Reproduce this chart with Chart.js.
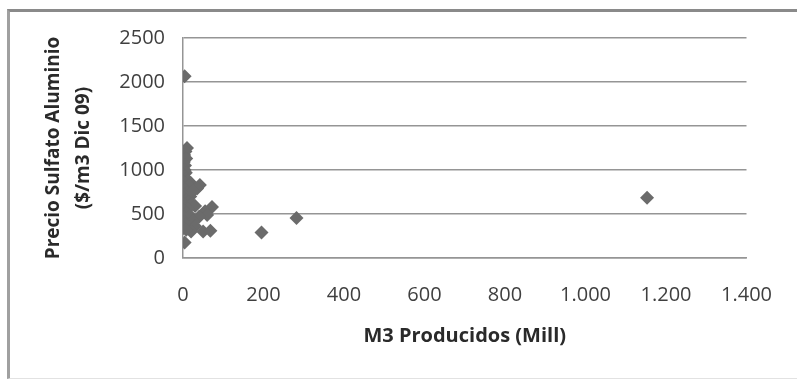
<!DOCTYPE html>
<html>
<head>
<meta charset="utf-8">
<script src="https://cdn.jsdelivr.net/npm/chart.js@4"></script>
<style>
  html, body { margin: 0; padding: 0; background: #fff; overflow: hidden; }
  #wrap { position: relative; width: 797px; height: 379px; }
  #frame {
    position: absolute; left: 7px; top: 9px; width: 820px; height: 366px;
    border-top: 3px solid #8a8a8a; border-left: 3px solid #a0a0a0; border-bottom: 1px solid #e2e2e2;
  }
  canvas { position: absolute; left: 0; top: 0; }
</style>
</head>
<body>
<div id="wrap">
  <div id="frame"></div>
  <canvas id="chart" width="797" height="379"></canvas>
</div>
<script>
// M3 producidos (millones) vs precio sulfato de aluminio
const produccion = [
  4,
  10, 6, 3, 8, 2, 5, 4, 7,
  1, 3, 8, 12, 2, 20, 15, 42, 35, 1, 6, 10, 25, 3, 18, 2, 8, 14, 1, 5, 22, 30,
  72, 12, 3, 55, 60, 8, 18, 2, 40, 10, 4, 25, 6, 15, 1, 30, 50, 68, 20, 8,
  4,
  195, 282, 1153
]
const precio = [
  2065,
  1250, 1210, 1170, 1130, 1090, 1050, 1000, 970,
  950, 920, 900, 880, 860, 850, 820, 830, 790, 800, 770, 740, 760, 720, 700, 680, 660, 640, 620, 600, 620, 590,
  580, 560, 540, 530, 490, 510, 480, 460, 470, 440, 410, 420, 380, 350, 340, 360, 300, 310, 300, 320,
  175,
  290, 455, 685
]
const xTickLabels = ['0', '200', '400', '600', '800', '1.000', '1.200', '1.400']
const yTickLabels = ['0', '500', '1000', '1500', '2000', '2500']

const gridColor = '#959595'
const textColor = '#3f3f3f'
const markColor = '#6b6b6b'

const points = produccion.map((x, i) => ({ x: x, y: precio[i] }))

new Chart(document.getElementById('chart').getContext('2d'), {
  type: 'scatter',
  data: {
    datasets: [{
      data: points,
      pointStyle: 'rectRot',
      pointRadius: 7,
      pointHoverRadius: 7,
      backgroundColor: markColor,
      borderColor: markColor,
      borderWidth: 0
    }]
  },
  options: {
    responsive: false,
    animation: false,
    events: [],
    layout: { padding: { left: 34, right: 47, top: 38, bottom: 27 } },
    plugins: { legend: { display: false }, tooltip: { enabled: false } },
    scales: {
      x: {
        type: 'linear',
        min: 0,
        max: 1400,
        afterFit: scale => { scale.height = 94 },
        grid: { display: false, drawTicks: false },
        border: { display: true, color: gridColor, width: 1.5 },
        ticks: {
          stepSize: 200,
          padding: 25,
          color: textColor,
          font: { family: 'Open Sans', size: 20 },
          maxRotation: 0,
          callback: (v, i) => xTickLabels[i]
        },
        title: {
          display: true,
          text: 'M3 Producidos (Mill)',
          color: '#2a2a2a',
          font: { family: 'Open Sans', size: 20, weight: 'bold' },
          padding: { top: 0, bottom: 4 }
        }
      },
      y: {
        min: 0,
        max: 2500,
        afterFit: scale => { scale.width = 149 },
        grid: { color: gridColor, lineWidth: 1.5, drawTicks: false },
        border: { display: true, color: gridColor, width: 1.5 },
        ticks: {
          stepSize: 500,
          padding: 18,
          color: textColor,
          font: { family: 'Open Sans', size: 20 },
          callback: (v, i) => yTickLabels[i]
        },
        title: {
          display: true,
          text: ['Precio Sulfato Aluminio', '($/m3 Dic 09)'],
          color: '#2a2a2a',
          font: { family: 'Open Sans', size: 19, weight: 'bold', lineHeight: 1.6 },
          padding: { top: 4, bottom: 0 }
        }
      }
    }
  }
})
</script>
</body>
</html>
